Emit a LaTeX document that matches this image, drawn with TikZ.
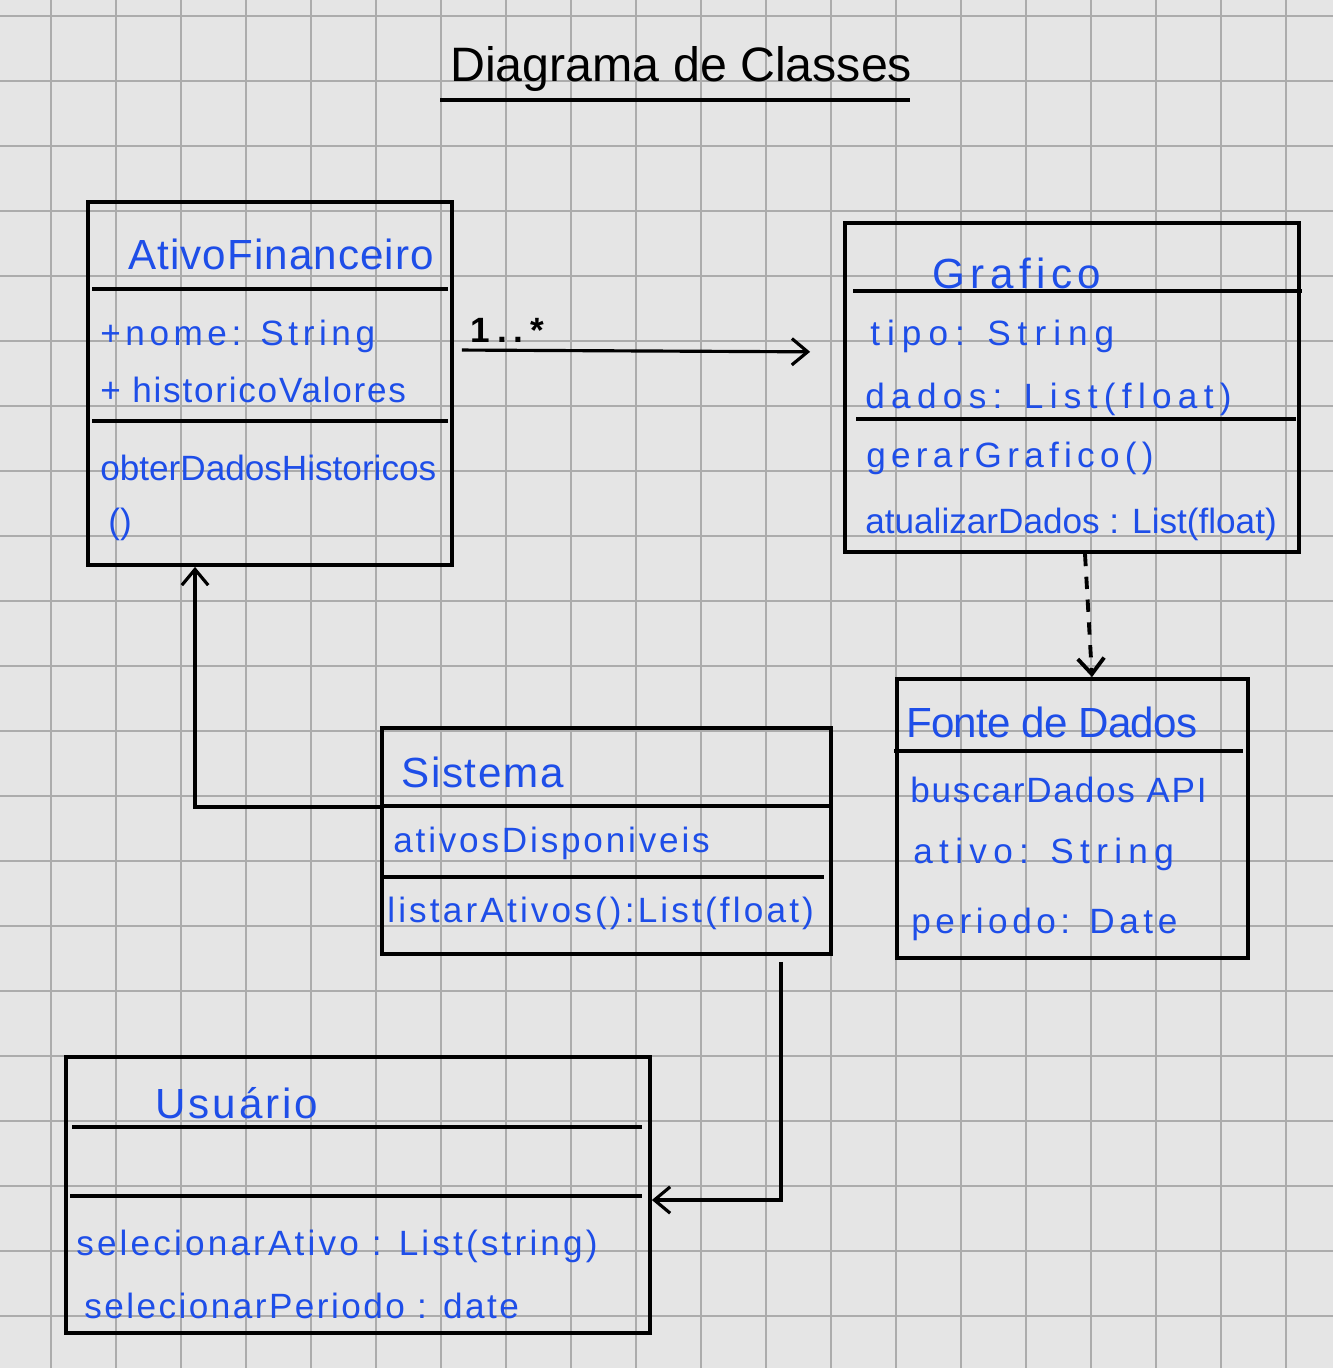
\documentclass[tikz,border=0pt]{standalone}
\usepackage{fontspec}
\setmainfont{Liberation Sans}
\usetikzlibrary{arrows.meta, positioning}
\definecolor{paper}{RGB}{229,229,229}
\definecolor{gridgray}{RGB}{172,172,172}
\definecolor{ink}{RGB}{30,78,232}
\tikzset{
  classbox/.style={rectangle, draw, line width=2.2pt, inner sep=0pt},
  divider/.style={line width=1.8pt},
  clsname/.style={anchor=base west, inner sep=0pt, text=ink,
                  font=\fontsize{24}{28}\selectfont},
  member/.style={anchor=base west, inner sep=0pt, text=ink,
                 font=\fontsize{20}{24}\selectfont},
  namels/.style={font=\fontsize{24}{28}\selectfont\addfontfeature{LetterSpace=#1}},
  memberls/.style={font=\fontsize{20}{24}\selectfont\addfontfeature{LetterSpace=#1}},
  title/.style={anchor=base west, inner sep=0pt,
                font=\fontsize{27.5}{32}\selectfont},
  assoc/.style={-{Straight Barb[length=9pt, width=15pt]}, line width=1.8pt},
  depend/.style={assoc, dash pattern=on 7pt off 6pt, line width=2.2pt},
  mult/.style={inner sep=0pt,
               font=\fontsize{20}{24}\selectfont\bfseries\addfontfeature{LetterSpace=20}},
  gridline/.style={gridgray, line width=1pt},
}

\begin{document}
\begin{tikzpicture}[x=0.02cm, y=-0.02cm]
  \useasboundingbox (0,0) rectangle (1333,1368);
  \fill[paper] (0,0) rectangle (1333,1368);
  \foreach \gx in {0,...,19}
    \draw[gridline] ({51+65*\gx},0) -- ({51+65*\gx},1368);
  \foreach \gy in {0,...,20}
    \draw[gridline] (0,{16+65*\gy}) -- (1333,{16+65*\gy});

  \node[title] (title) at (450,82) {Diagrama de Classes};
  \draw[line width=2pt] (440,100) -- (910,100);

  % classes
  \node[classbox, minimum width=7.28cm, minimum height=7.26cm] (ativo) at (270,383.5) {};
  \node[classbox, minimum width=9.08cm, minimum height=6.58cm] (graf)  at (1072,387.5) {};
  \node[classbox, minimum width=7.02cm, minimum height=5.58cm] (fonte) at (1072.5,818.5) {};
  \node[classbox, minimum width=8.98cm, minimum height=4.52cm] (sis)   at (606.5,841) {};
  \node[classbox, minimum width=11.68cm, minimum height=5.52cm] (usu)  at (358,1195) {};

  \draw[divider] (92,289) -- (448,289);
  \draw[divider] (92,421) -- (448,421);
  \draw[divider] (853,291) -- (1302,291);
  \draw[divider] (856,419) -- (1296,419);
  \draw[divider] (894,751) -- (1243,751);
  \draw[divider] (382,806) -- (831,806);
  \draw[divider] (382,877) -- (824,877);
  \draw[divider] (72,1127) -- (642,1127);
  \draw[divider] (70,1196) -- (642,1196);

  \node[clsname, namels=2.5] (ativoName)  at (128,270) {AtivoFinanceiro};
  \node[member, memberls=13] (ativoNome)  at (100,345) {+nome: String};
  \node[member, memberls=5]  (ativoHist)  at (100,402) {+ historicoValores};
  \node[member]              (ativoObter) at (100,480) {obterDadosHistoricos};
  \node[member]              (ativoParen) at (108,533) {()};

  \node[clsname, namels=13]  (grafName)  at (932,289) {Grafico};
  \node[member, memberls=20] (grafTipo)  at (870,345) {tipo: String};
  \node[member, memberls=18] (grafDados) at (865,408) {dados: List(float)};
  \node[member, memberls=15] (grafGerar) at (866,467) {gerarGrafico()};
  \node[member]              (grafAtual) at (865,533) {atualizarDados : List(float)};

  \node[clsname, namels=-2]  (fonteName)    at (906,737) {Fonte de Dados};
  \node[member, memberls=5]  (fonteBuscar)  at (910,802) {buscarDados API};
  \node[member, memberls=18] (fonteAtivo)   at (913,863) {ativo: String};
  \node[member, memberls=13] (fontePeriodo) at (911,933) {periodo: Date};

  \node[clsname, namels=4]   (sisName)    at (401,787) {Sistema};
  \node[member, memberls=8]  (sisAtivos)  at (393,852) {ativosDisponiveis};
  \node[member, memberls=9]  (sisListar)  at (387,922) {listarAtivos():List(float)};

  \node[clsname, namels=7]   (usuName)    at (155,1118) {Usuário};
  \node[member, memberls=9]  (usuAtivo)   at (76,1255) {selecionarAtivo : List(string)};
  \node[member, memberls=7]  (usuPeriodo) at (84,1318) {selecionarPeriodo : date};

  % relations
  \draw[assoc, shorten <=0.16cm, shorten >=0.66cm]
    ([yshift=0.67cm]ativo.east) --
    node[mult, pos=0, anchor=base west, xshift=0.3cm, yshift=0.16cm] (multGraf) {1..*}
    ([yshift=0.71cm]graf.west);
  \draw[depend] ([xshift=0.26cm]graf.south) -- ([xshift=0.39cm]fonte.north);
  \draw[assoc] ([yshift=0.68cm]sis.west) -| ([xshift=-1.5cm]ativo.south);
  \draw[assoc] ([xshift=3.49cm, yshift=-0.12cm]sis.south) |- ([yshift=-0.1cm]usu.east);
\end{tikzpicture}
\end{document}
